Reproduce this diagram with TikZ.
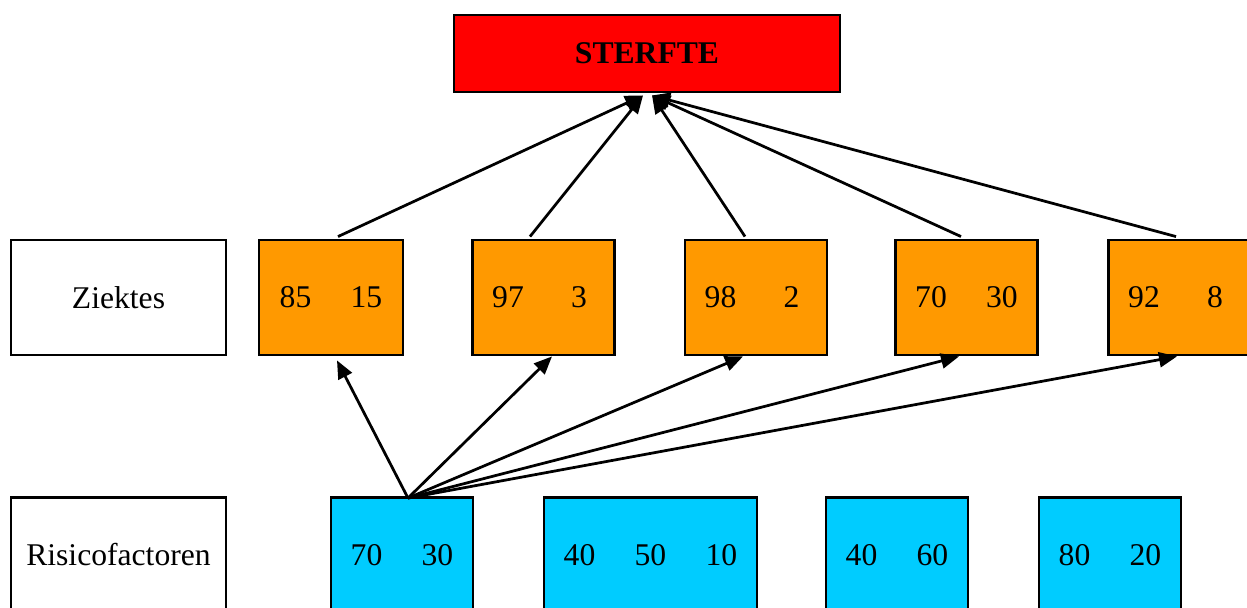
\documentclass[tikz,border=0pt]{standalone}
\usepackage{fontspec}
\setmainfont{Liberation Serif}
\usetikzlibrary{arrows.meta,calc}
\definecolor{sterftered}{HTML}{FF0000}
\definecolor{ziekteorange}{HTML}{FF9900}
\definecolor{risicoblue}{HTML}{00CCFF}
\newcommand{\twocell}[2]{\makebox[1.42cm]{#1}\makebox[1.42cm]{#2}}
\newcommand{\threecell}[3]{\makebox[1.42cm]{#1}\makebox[1.42cm]{#2}\makebox[1.42cm]{#3}}
\tikzset{
  box/.style={draw=black, line width=0.058cm, inner sep=0pt, minimum height=2.3cm,
              font=\fontsize{18}{21}\selectfont},
  labelbox/.style={box, fill=white, minimum width=4.3cm},
  zbox/.style={box, fill=ziekteorange},
  rbox/.style={box, fill=risicoblue},
  arr/.style={line width=0.055cm, -{Triangle[length=0.36cm, width=0.3cm]}},
}
\begin{document}
\begin{tikzpicture}[x=0.02cm, y=-0.02cm]
\useasboundingbox (0,0) rectangle (1247,608);
\clip (0,0) rectangle (1247,608);

% top box
\node[box, fill=sterftered, minimum width=7.72cm, minimum height=1.54cm,
      font=\fontsize{18}{21}\selectfont\bfseries] (st) at (647,53.5) {STERFTE};

% row labels
\node[labelbox] (zl) at (118.5,297.5) {Ziektes};
\node[labelbox] (rl) at (118.5,555) {Risicofactoren};

% disease boxes
\node[zbox, minimum width=2.88cm] (o1) at (331,297.5)    {\twocell{85}{15}};
\node[zbox, minimum width=2.82cm] (o2) at (543.5,297.5)  {\twocell{97}{3}};
\node[zbox, minimum width=2.80cm] (o3) at (756,297.5)    {\twocell{98}{2}};
\node[zbox, minimum width=2.82cm] (o4) at (966.5,297.5)  {\twocell{70}{30}};
\node[zbox, minimum width=2.82cm] (o5) at (1179.5,297.5) {\twocell{92}{8}};

% risk factor boxes
\node[rbox, minimum width=2.84cm] (b1) at (402,555)   {\twocell{70}{30}};
\node[rbox, minimum width=4.26cm] (b2) at (650.5,555) {\threecell{40}{50}{10}};
\node[rbox, minimum width=2.84cm] (b3) at (897,555)   {\twocell{40}{60}};
\node[rbox, minimum width=2.84cm] (b4) at (1110,555)  {\twocell{80}{20}};

% arrow end points
\coordinate (tA) at ($(st.south)+(-4,2)$);
\coordinate (tB) at ($(st.south)+(5,2)$);
\coordinate (src) at ($(b1.north)+(6,2)$);

% diseases -> mortality
\draw[arr] ($(o1.north)+(7,-2)$)    -- (tA);
\draw[arr] ($(o2.north)+(-13.5,-2)$) -- (tA);
\draw[arr] ($(o3.north)+(-11,-2)$)  -- (tB);
\draw[arr] ($(o4.north)+(-5.5,-2)$) -- (tB);
\draw[arr] ($(o5.north)+(-3.5,-2)$) -- (tB);

% risk factor -> diseases
\draw[arr] (src) -- ($(o1.south)+(6,4)$);
\draw[arr] (src) -- ($(o2.south)+(8.5,0)$);
\draw[arr] (src) -- ($(o3.south)+(-13,0)$);
\draw[arr] (src) -- ($(o4.south)+(-7.5,0)$);
\draw[arr] (src) -- ($(o5.south)+(-2.5,0)$);
\end{tikzpicture}
\end{document}
